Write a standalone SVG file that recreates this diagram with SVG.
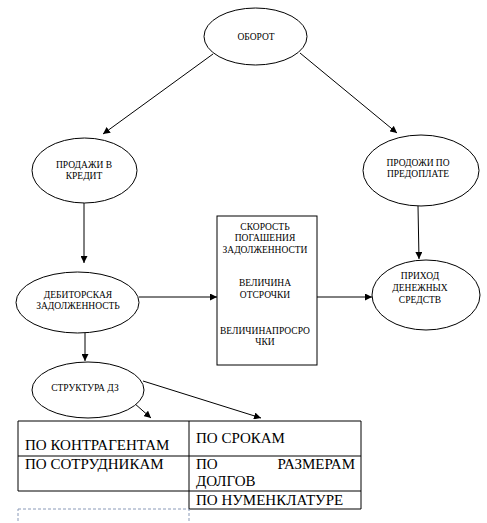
<svg xmlns="http://www.w3.org/2000/svg" width="487" height="523" viewBox="0 0 487 523">
<style>
.n{fill:#fff;stroke:#000;stroke-width:1}
.t{font-family:"Liberation Serif","Times New Roman",serif;font-size:9.5px;fill:#000;text-anchor:middle}
.b{font-family:"Liberation Serif","Times New Roman",serif;font-size:15px;fill:#000}
.c{stroke:#000;stroke-width:1;fill:none;marker-end:url(#a)}
.g{fill:none;stroke:#000;stroke-width:1}
</style>
<defs>
<marker id="a" viewBox="0 0 10 10" refX="10" refY="5" markerWidth="7" markerHeight="7" markerUnits="userSpaceOnUse" orient="auto">
<path d="M0,0 L10,5 L0,10 z" fill="#000"/>
</marker>
</defs>
<rect width="487" height="523" fill="#fff"/>
<g id="connectors">
<line class="c" x1="213" y1="54" x2="103" y2="134"/>
<line class="c" x1="300" y1="53" x2="397" y2="133"/>
<line class="c" x1="84" y1="203" x2="84" y2="263"/>
<line class="c" x1="418" y1="206" x2="419" y2="259"/>
<line class="c" x1="139" y1="297" x2="217" y2="297"/>
<line class="c" x1="317" y1="297" x2="372" y2="297"/>
<line class="c" x1="85" y1="333" x2="85" y2="361"/>
<line class="c" x1="134" y1="403" x2="151" y2="418"/>
<line class="c" x1="143" y1="381" x2="261" y2="418"/>
</g>
<g id="oborot">
<ellipse class="n" cx="255.5" cy="36.5" rx="51.5" ry="28.5"/>
<text class="t" x="256" y="40">ОБОРОТ</text>
</g>
<g id="prodazhi">
<ellipse class="n" cx="84.5" cy="170.5" rx="52.5" ry="32.5"/>
<text class="t" x="84" y="168">ПРОДАЖИ В</text>
<text class="t" x="84" y="179">КРЕДИТ</text>
</g>
<g id="predoplata">
<ellipse class="n" cx="421" cy="170.5" rx="58" ry="35.5"/>
<text class="t" x="418" y="166">ПРОДОЖИ ПО</text>
<text class="t" x="418" y="177">ПРЕДОПЛАТЕ</text>
</g>
<g id="debitor">
<ellipse class="n" cx="77.5" cy="302.5" rx="61.5" ry="30.5"/>
<text class="t" x="78" y="298">ДЕБИТОРСКАЯ</text>
<text class="t" x="78" y="309">ЗАДОЛЖЕННОСТЬ</text>
</g>
<g id="params">
<rect class="n" x="217" y="216" width="100" height="149"/>
<text class="t" x="265" y="230">СКОРОСТЬ</text>
<text class="t" x="265" y="241">ПОГАШЕНИЯ</text>
<text class="t" x="265" y="253">ЗАДОЛЖЕННОСТИ</text>
<text class="t" x="265" y="286">ВЕЛИЧИНА</text>
<text class="t" x="265" y="298">ОТСРОЧКИ</text>
<text class="t" x="265" y="334">ВЕЛИЧИНАПРОСРО</text>
<text class="t" x="265" y="345">ЧКИ</text>
</g>
<g id="prihod">
<ellipse class="n" cx="426" cy="295" rx="54" ry="35"/>
<text class="t" x="420" y="279">ПРИХОД</text>
<text class="t" x="420" y="291">ДЕНЕЖНЫХ</text>
<text class="t" x="420" y="303">СРЕДСТВ</text>
</g>
<g id="struktura">
<ellipse class="n" cx="88" cy="390" rx="56" ry="28"/>
<text class="t" x="85" y="391">СТРУКТУРА ДЗ</text>
</g>
<g id="table">
<path class="g" d="M18,421 H361 V509 H189 V421 M18,421 V491 H361 M18,456 H361"/>
<rect x="18" y="509" width="171" height="20" fill="none" stroke="#8a9ab8" stroke-width="1" stroke-dasharray="3,2"/>
<text class="b" x="25" y="450">ПО КОНТРАГЕНТАМ</text>
<text class="b" x="196" y="443">ПО СРОКАМ</text>
<text class="b" x="25" y="469">ПО СОТРУДНИКАМ</text>
<text class="b" x="196" y="469">ПО</text>
<text class="b" x="355" y="469" text-anchor="end">РАЗМЕРАМ</text>
<text class="b" x="196" y="486">ДОЛГОВ</text>
<text class="b" x="196" y="505">ПО НУМЕНКЛАТУРЕ</text>
</g>
</svg>
